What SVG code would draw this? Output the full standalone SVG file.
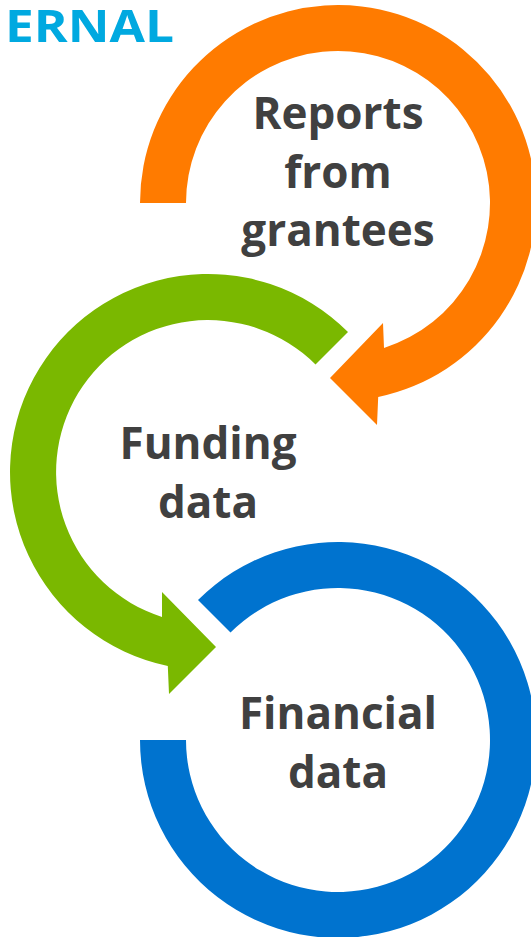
<svg xmlns="http://www.w3.org/2000/svg" width="531" height="937" viewBox="0 0 531 937">
  <style>
    .lbl { font-family: "Open Sans", "Liberation Sans", sans-serif; font-weight: 700; font-size: 44px; fill: #404040; text-anchor: middle; }
    .title { font-family: "Open Sans", "Liberation Sans", sans-serif; font-weight: 700; font-size: 45px; fill: #00A9E0; }
  </style>
  <rect width="531" height="937" fill="#ffffff"/>
  <text class="title" x="5" y="42" textLength="169" lengthAdjust="spacingAndGlyphs">ERNAL</text>
  <g id="connectors">
    <path id="orange-arrow" fill="#FF7B00" d="M140,203 A198,198 0 1 1 378.2,396.9 L377,425 L330,378 L383,323 L384,347.9 A152,152 0 1 0 186,203 Z"/>
    <path id="green-arrow" fill="#7AB800" d="M348,332 A198,198 0 1 0 167.8,665.9 L169,694 L216,647 L162,592 L162,616.9 A152,152 0 1 1 315.5,364.5 Z"/>
  </g>
  <g id="node-reports">
    <text class="lbl" x="338" y="129">Reports</text>
    <text class="lbl" x="338" y="188">from</text>
    <text class="lbl" x="338" y="246">grantees</text>
  </g>
  <g id="node-funding">
    <text class="lbl" x="208" y="459">Funding</text>
    <text class="lbl" x="208" y="518">data</text>
  </g>
  <g id="node-financial">
    <path id="blue-ring" fill="#0073CF" d="M198,600 A198,198 0 1 1 140,740 L186,740 A152,152 0 1 0 230.5,632.5 Z"/>
    <text class="lbl" x="338" y="729">Financial</text>
    <text class="lbl" x="338" y="788">data</text>
  </g>
</svg>
